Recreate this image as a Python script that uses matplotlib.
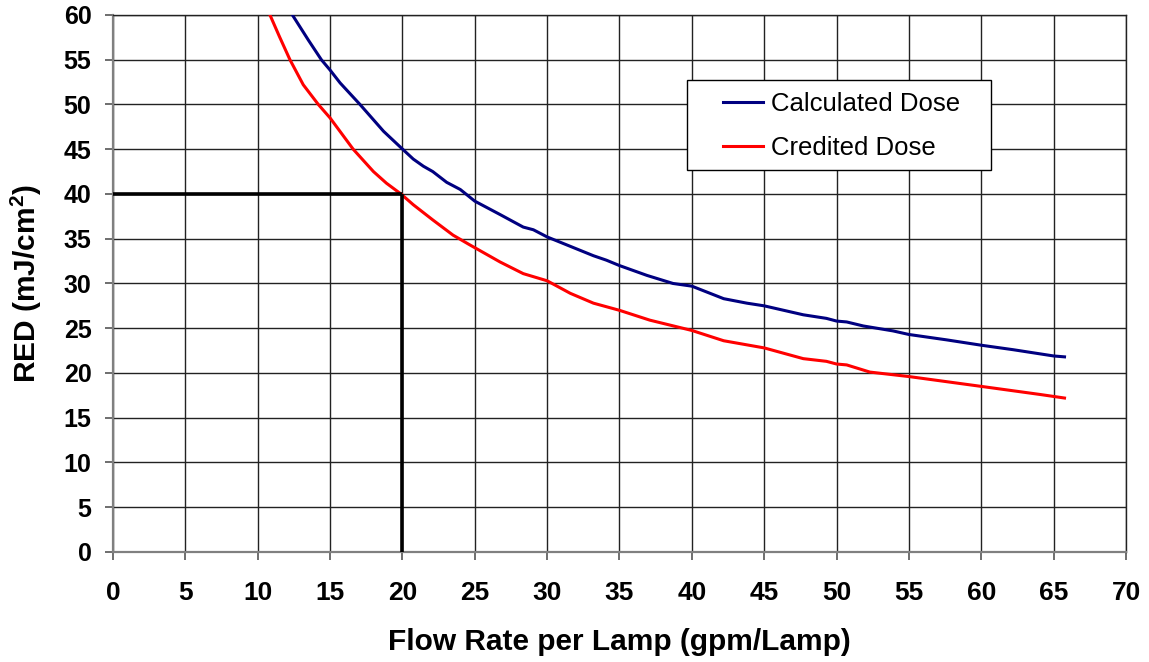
import numpy as np
import matplotlib
matplotlib.use("Agg")
import matplotlib.pyplot as plt
from matplotlib.patches import Rectangle

plt.rcParams['font.family'] = ['Liberation Sans', 'DejaVu Sans']
plt.rcParams['mathtext.fontset'] = 'custom'
plt.rcParams['mathtext.bf'] = 'Liberation Sans:bold'
plt.rcParams['mathtext.rm'] = 'Liberation Sans:bold'

# values
calc_x = [12.4, 13.5, 14.4, 15.0, 15.7, 17.07, 18.7, 19.95, 20.75, 21.45, 22.1,
          23.06, 24.0, 25.0, 26.75, 28.35, 29.05, 30.0, 31.6, 33.2, 34.1, 35.0,
          36.9, 38.7, 40.0, 42.2, 43.8, 45.0, 47.7, 49.3, 50.0, 50.7, 51.85,
          53.9, 55.0, 57.6, 60.0, 62.2, 65.0, 65.75]
calc_y = [60.0, 57.2, 55.0, 53.85, 52.4, 50.0, 47.0, 45.1, 43.9, 43.1, 42.5,
          41.3, 40.5, 39.2, 37.7, 36.3, 36.0, 35.2, 34.15, 33.1, 32.6, 32.0,
          30.9, 30.0, 29.7, 28.3, 27.8, 27.5, 26.5, 26.1, 25.8, 25.7, 25.25,
          24.7, 24.3, 23.7, 23.1, 22.6, 21.9, 21.8]

cred_x = [10.85, 11.5, 12.23, 13.15, 14.19, 15.0, 16.6, 18.0, 18.9, 19.9, 20.75,
          22.1, 23.5, 24.67, 25.0, 26.75, 28.35, 30.0, 31.6, 33.2, 35.0, 37.1,
          40.0, 42.2, 45.0, 47.7, 49.3, 50.0, 50.7, 52.3, 55.0, 60.0, 64.05, 65.75]
cred_y = [60.0, 57.6, 55.0, 52.2, 50.0, 48.5, 45.0, 42.5, 41.2, 40.0, 38.8,
          37.1, 35.4, 34.3, 34.0, 32.4, 31.1, 30.3, 28.9, 27.8, 27.0, 25.9,
          24.75, 23.6, 22.8, 21.6, 21.3, 21.0, 20.9, 20.1, 19.6, 18.5, 17.6, 17.2]

# design point: 20 gpm/Lamp at 40 mJ/cm2
design_flow = 20
design_dose = 40

x_ticks = np.arange(0, 71, 5)
y_ticks = np.arange(0, 61, 5)

fig = plt.figure(figsize=(11.49, 6.62), dpi=100)
ax = fig.add_axes([0.0983, 0.1662, 0.8817, 0.8112])

ax.plot(calc_x, calc_y, color='#000080', lw=2.2, label='Calculated Dose', zorder=3)
ax.plot(cred_x, cred_y, color='#ff0000', lw=2.2, label='Credited Dose', zorder=3)

ax.plot([0, design_flow], [design_dose, design_dose], color='black', lw=2.6, zorder=3,
        solid_capstyle='butt')
ax.plot([design_flow, design_flow], [0, design_dose], color='black', lw=2.6, zorder=3,
        solid_capstyle='butt')

ax.set_xlim(0, 70)
ax.set_ylim(0, 60)
ax.set_xticks(x_ticks)
ax.set_yticks(y_ticks)
ax.grid(True, color='#222222', lw=1.0)
ax.set_axisbelow(True)

for side in ['top', 'right']:
    ax.spines[side].set_color('#222222')
    ax.spines[side].set_linewidth(1.0)
for side in ['left', 'bottom']:
    ax.spines[side].set_color('#808080')
    ax.spines[side].set_linewidth(1.6)

ax.tick_params(axis='x', length=6, width=1.2, color='#555555', pad=15, labelsize=19)
ax.tick_params(axis='y', length=6, width=1.2, color='#555555', pad=9.5, labelsize=18)
for lab in ax.get_xticklabels() + ax.get_yticklabels():
    lab.set_fontweight('bold')

ax.set_xlabel('Flow Rate per Lamp (gpm/Lamp)', fontsize=21.5, fontweight='bold')
ax.set_ylabel(r'RED (mJ/cm$^\mathbf{2}$)', fontsize=21.5, fontweight='bold')
ax.xaxis.set_label_coords(0.5, -0.141)
ax.yaxis.set_label_coords(-0.068, 0.5)

# legend box drawn by hand so its padding matches the reference
box = Rectangle((0.567, 0.711), 0.300, 0.168, transform=ax.transAxes,
                facecolor='white', edgecolor='black', lw=1.0, zorder=4)
ax.add_patch(box)
leg = ax.legend(loc='center', bbox_to_anchor=(0.719, 0.793), frameon=False,
                fontsize=18.5, handlelength=1.55, handletextpad=0.3,
                labelspacing=0.78, borderpad=0)
leg.set_zorder(5)

fig.savefig('out.png', dpi=100)
